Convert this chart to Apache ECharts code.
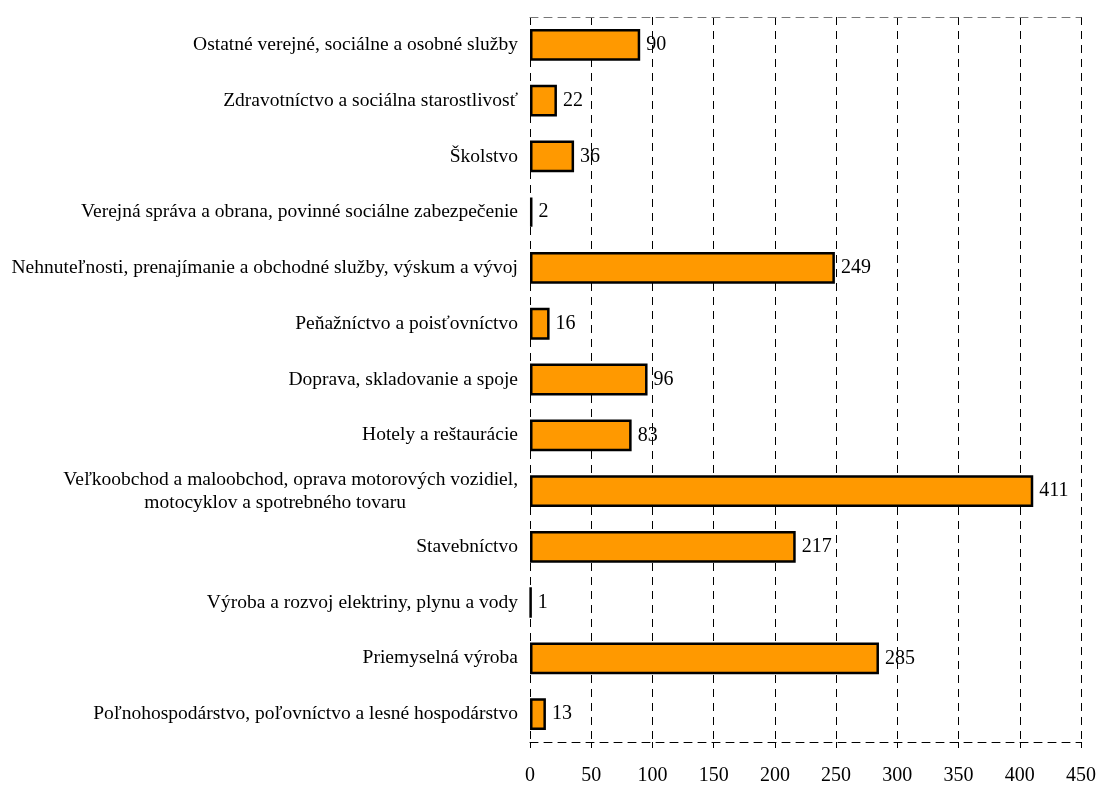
<!DOCTYPE html>
<html><head><meta charset="utf-8">
<script src="https://cdn.jsdelivr.net/npm/echarts@6/dist/echarts.min.js"></script>
<style>html,body{margin:0;padding:0;background:#fff}#c{width:1099px;height:788px}</style>
</head><body><div id="c"></div>
<script>
const categories = [
  "Poľnohospodárstvo, poľovníctvo a lesné hospodárstvo",
  "Priemyselná výroba",
  "Výroba a rozvoj elektriny, plynu a vody",
  "Stavebníctvo",
  "Veľkoobchod a maloobchod, oprava motorových vozidiel,\nmotocyklov a spotrebného tovaru" + "\u00a0".repeat(23),
  "Hotely a reštaurácie",
  "Doprava, skladovanie a spoje",
  "Peňažníctvo a poisťovníctvo",
  "Nehnuteľnosti, prenajímanie a obchodné služby, výskum a vývoj",
  "Verejná správa a obrana, povinné sociálne zabezpečenie",
  "Školstvo",
  "Zdravotníctvo a sociálna starostlivosť",
  "Ostatné verejné, sociálne a osobné služby"
];
const values = [13, 285, 1, 217, 411, 83, 96, 16, 249, 2, 36, 22, 90];
const xTicks = [0, 50, 100, 150, 200, 250, 300, 350, 400, 450];

const font = "'Liberation Serif', 'DejaVu Serif', serif";
const chart = echarts.init(document.getElementById('c'));
chart.setOption({
  animation: false,
  grid: {left: 530, right: 18, top: 17, bottom: 46, containLabel: false},
  xAxis: [{
    type: 'value', min: xTicks[0], max: xTicks[xTicks.length-1], interval: 50,
    axisLine: {show: true, lineStyle: {color: '#000', type: [8, 6], width: 1}},
    axisTick: {show: true, length: 6, lineStyle: {color: '#000'}},
    axisLabel: {color: '#000', fontFamily: font, fontSize: 20, margin: 24},
    splitLine: {show: true, lineStyle: {color: '#000', type: [8, 6], width: 1}}
  }, {
    type: 'value', position: 'top', min: 0, max: 450, interval: 50,
    axisLine: {show: true, lineStyle: {color: '#777', type: [8, 6], width: 1}},
    axisTick: {show: false}, axisLabel: {show: false}, splitLine: {show: false}
  }],
  yAxis: {
    type: 'category', data: categories,
    axisLine: {show: false}, axisTick: {show: false},
    axisLabel: {color: '#000', fontFamily: font, fontSize: 19.5, margin: 12, align: 'right', lineHeight: 23}
  },
  series: [{
    type: 'bar', data: values, barWidth: '57%', xAxisIndex: 0,
    itemStyle: {color: '#FF9900', borderColor: '#000', borderWidth: 2.5},
    label: {show: true, position: 'right', distance: 6, color: '#000', fontFamily: font, fontSize: 20}
  }]
});
</script></body></html>
